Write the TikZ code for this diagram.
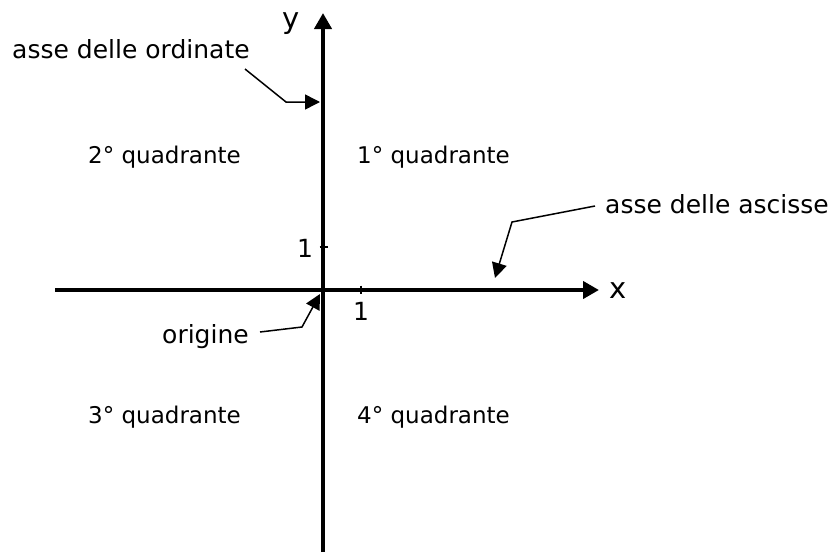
\documentclass[tikz,border=0pt]{standalone}
\usepackage{fontspec}
\setmainfont{DejaVu Sans}
\usetikzlibrary{arrows.meta}
\begin{document}
\begin{tikzpicture}[x=1pt,y=-1pt,
  axis/.style={line width=4.5pt,-{Triangle[length=16pt,width=17pt]}},
  pointer/.style={line width=1.5pt,-{Triangle[length=15pt,width=15pt]}},
  tick/.style={line width=2pt},
  lbl/.style={inner sep=0pt,anchor=base west,font=\fontsize{25}{30}\selectfont},
  quad/.style={inner sep=0pt,anchor=base west,font=\fontsize{23}{28}\selectfont},
  axlbl/.style={inner sep=0pt,anchor=base,font=\fontsize{29}{34}\selectfont},
  num/.style={inner sep=0pt,anchor=base,font=\fontsize{25}{30}\selectfont}]
\useasboundingbox (0,0) rectangle (832,552);
% axes
\coordinate (ybot) at (323,552);
\coordinate (ytop) at (323,13);
\coordinate (xleft) at (55,290);
\coordinate (xright) at (599,290);
\draw[axis] (ybot) -- (ytop);
\draw[axis] (xleft) -- (xright);
% ticks
\coordinate (ty1) at (319.5,247);
\coordinate (ty2) at (327.5,247);
\coordinate (tx1) at (361,285.5);
\coordinate (tx2) at (361,293.5);
\draw[tick] (ty1) -- (ty2);
\draw[tick] (tx1) -- (tx2);
% labels
\node[axlbl] (ylab) at (291,28) {y};
\node[axlbl] (xlab) at (618,298) {x};
\node[num] (one-y) at (305,257) {1};
\node[num] (one-x) at (361,320) {1};
\node[quad] (q2) at (88,163) {2° quadrante};
\node[quad] (q1) at (357,163) {1° quadrante};
\node[quad] (q3) at (88,423) {3° quadrante};
\node[quad] (q4) at (357,423) {4° quadrante};
\node[lbl] (ord) at (12,58) {asse delle ordinate};
\node[lbl] (asc) at (605,213) {asse delle ascisse};
\node[lbl] (orig) at (162,343) {origine};
% pointers
\coordinate (ordS) at (245,69);
\coordinate (ordC) at (286,102);
\coordinate (ordE) at (320,102);
\draw[pointer] (ordS) -- (ordC) -- (ordE);
\coordinate (ascS) at (595,206);
\coordinate (ascC) at (512,222);
\coordinate (ascE) at (495,278);
\draw[pointer] (ascS) -- (ascC) -- (ascE);
\coordinate (origS) at (260,332);
\coordinate (origC) at (302,327);
\coordinate (origE) at (320,294);
\draw[pointer] (origS) -- (origC) -- (origE);
\end{tikzpicture}
\end{document}
